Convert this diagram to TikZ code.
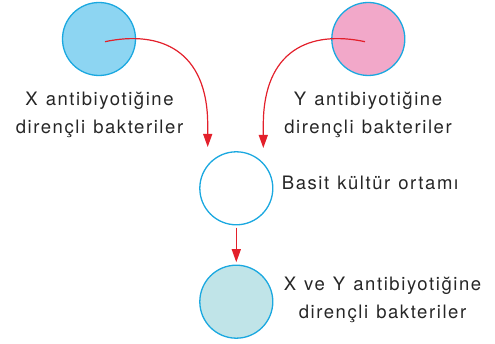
\documentclass[tikz,border=0pt]{standalone}
\usepackage{fontspec}
\setmainfont{TeX Gyre Heros}[LetterSpace=8.5,WordSpace=1.2]
\usetikzlibrary{arrows.meta}
\definecolor{rim}{HTML}{1AA8E0}
\definecolor{xfill}{HTML}{8DD5F2}
\definecolor{yfill}{HTML}{F2A8C9}
\definecolor{mixfill}{HTML}{C0E4E8}
\definecolor{arrowred}{HTML}{E3202B}
\begin{document}
\begin{tikzpicture}[x=1pt,y=1pt,
  dish/.style={circle,draw=rim,line width=1.3pt,minimum size=73pt,inner sep=0pt},
  flow/.style={draw=arrowred,line width=1.2pt,-{Triangle[length=13pt,width=9pt]}},
  lbl/.style={font=\fontsize{18.5}{27.5}\selectfont,text=black!85,align=center,inner sep=0pt}]
  \useasboundingbox (0,0) rectangle (495,344);
  % culture dishes
  \node[dish,fill=xfill]   (xd)  at (99,305) {};
  \node[dish,fill=yfill]   (yd)  at (368.3,305) {};
  \node[dish,fill=white]   (bd)  at (236.3,155.7) {};
  \node[dish,fill=mixfill] (md)  at (236.3,42.3) {};
  % labels (base anchor sits on the last line)
  \node[lbl,anchor=base] (xl) at (99.5,210.7) {X antibiyotiğine\\dirençli bakteriler};
  \node[lbl,anchor=base] (yl) at (368,210.7) {Y antibiyotiğine\\dirençli bakteriler};
  \node[lbl,anchor=base west] (bl) at (281.7,154) {Basit kültür ortamı};
  \node[lbl,anchor=base] (ml) at (382.5,25.7) {X ve Y antibiyotiğine\\dirençli bakteriler};
  % arrow ends
  \coordinate (xs) at (105,302.3);
  \coordinate (xe) at (207.7,197);
  \coordinate (ys) at (365,302.3);
  \coordinate (ye) at (263.3,196);
  \draw[flow] (xs) .. controls (160,314) and (207.7,294) .. (207.7,219) -- (xe);
  \draw[flow] (ys) .. controls (310,314) and (263.3,294) .. (263.3,219) -- (ye);
  \draw[flow,shorten <=2.3pt,shorten >=2.3pt] (bd.south) -- (md.north);
\end{tikzpicture}
\end{document}
